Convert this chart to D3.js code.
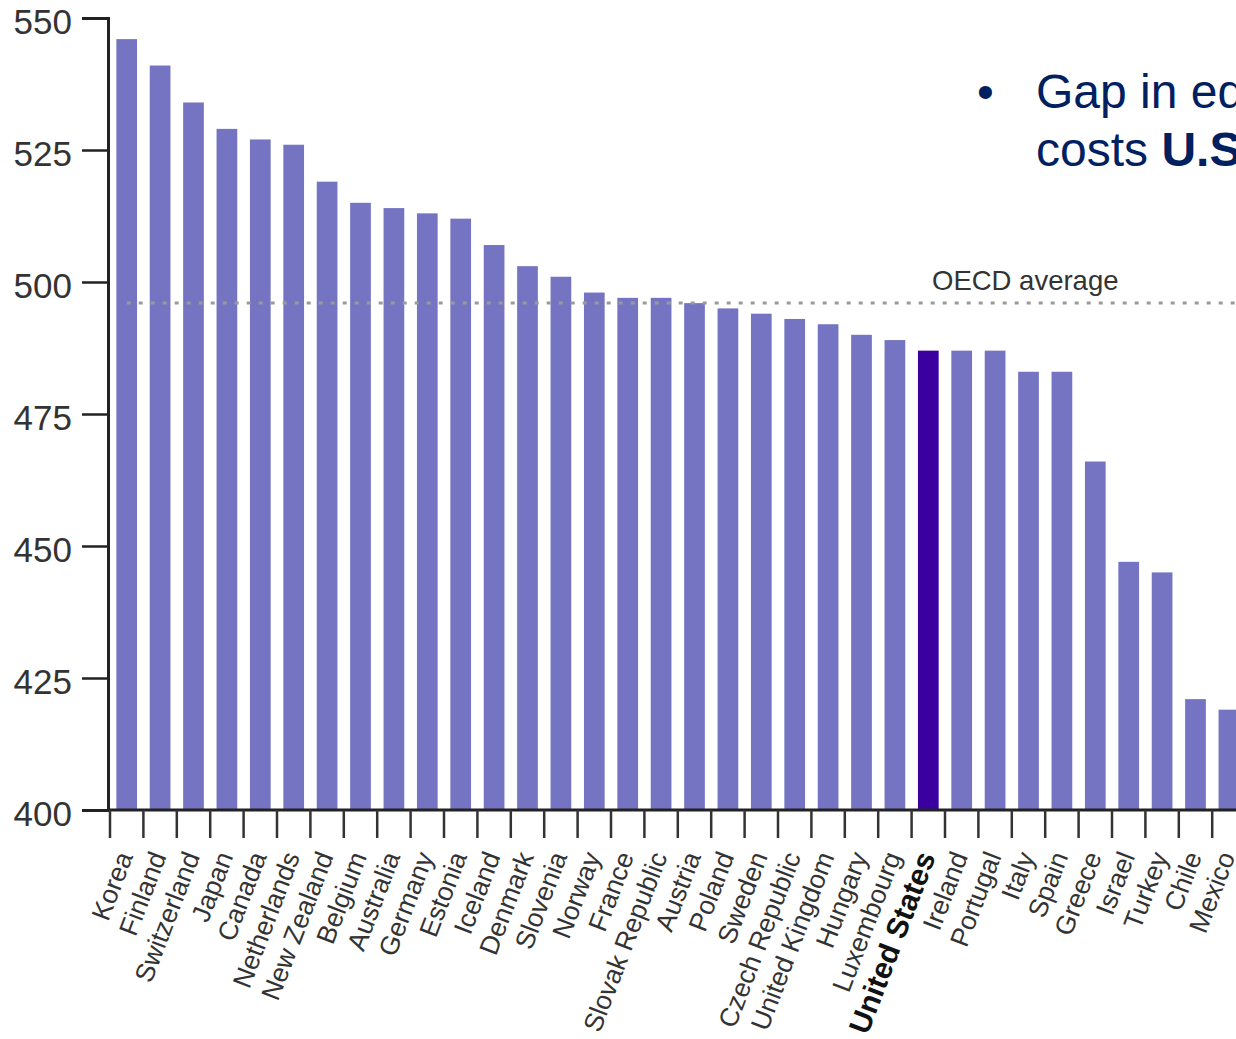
<!DOCTYPE html>
<html>
<head>
<meta charset="utf-8">
<script src="https://cdn.jsdelivr.net/npm/d3@7"></script>
<style>
  html, body { margin: 0; padding: 0; background: #fff; overflow: hidden; }
  svg { display: block; font-family: "Liberation Sans", Arial, sans-serif; }
</style>
</head>
<body>
<svg id="chart" width="1236" height="1039"></svg>
<script>
// PISA 2009 mean mathematics scores, OECD countries
const countries = ["Korea", "Finland", "Switzerland", "Japan", "Canada", "Netherlands",
  "New Zealand", "Belgium", "Australia", "Germany", "Estonia", "Iceland", "Denmark",
  "Slovenia", "Norway", "France", "Slovak Republic", "Austria", "Poland", "Sweden",
  "Czech Republic", "United Kingdom", "Hungary", "Luxembourg", "United States",
  "Ireland", "Portugal", "Italy", "Spain", "Greece", "Israel", "Turkey", "Chile", "Mexico"];
const scores = [546, 541, 534, 529, 527, 526, 519, 515, 514, 513, 512, 507, 503, 501,
  498, 497, 497, 496, 495, 494, 493, 492, 490, 489, 487, 487, 487, 483, 483, 466,
  447, 445, 421, 419];
const oecdAverage = 496;
const yTicks = [400, 425, 450, 475, 500, 525, 550];
const highlight = "United States";
const bulletLines = [
  [{ t: "Gap in education", b: false }],
  [{ t: "costs ", b: false }, { t: "U.S. economy", b: true }]
];

const svg = d3.select("#chart");
const left = 110, step = 33.4;
const x = d3.scaleBand()
  .domain(countries)
  .range([left, left + step * countries.length])
  .paddingInner(0.38)
  .paddingOuter(0.19);
const y = d3.scaleLinear().domain([400, 550]).range([810, 18]);
const gap = x.step() * 0.38 / 2;

// bars
svg.append("g").selectAll("rect")
  .data(countries)
  .join("rect")
  .attr("x", d => x(d))
  .attr("width", x.bandwidth())
  .attr("y", (d, i) => y(scores[i]))
  .attr("height", (d, i) => y(400) - y(scores[i]))
  .attr("fill", d => d === highlight ? "#3b00a0" : "#7474c2");

// OECD average reference line
svg.append("line")
  .attr("x1", x(countries[0]) + x.bandwidth() / 2)
  .attr("x2", 1300)
  .attr("y1", y(oecdAverage)).attr("y2", y(oecdAverage))
  .attr("stroke", "#9a9a9a").attr("stroke-width", 3)
  .attr("stroke-dasharray", "4,8");
svg.append("text")
  .attr("x", 932).attr("y", y(oecdAverage) - 13)
  .attr("font-size", 27.5).attr("fill", "#333")
  .text("OECD average");

// y axis
const yAxis = svg.append("g")
  .attr("transform", "translate(108,0)")
  .call(d3.axisLeft(y).tickValues(yTicks).tickSize(26).tickPadding(10).tickFormat(d3.format("d")));
yAxis.select(".domain").attr("stroke", "#222").attr("stroke-width", 3);
yAxis.selectAll(".tick line").attr("stroke", "#222").attr("stroke-width", 2.5);
yAxis.selectAll(".tick text")
  .attr("font-size", 35).attr("fill", "#333")
  .attr("font-family", "Liberation Sans, Arial, sans-serif")
  .attr("dy", "0.45em");

// x axis line with ticks at band boundaries
const baseY = y(400);
svg.append("line")
  .attr("x1", 107).attr("x2", 1300)
  .attr("y1", baseY).attr("y2", baseY)
  .attr("stroke", "#222").attr("stroke-width", 3);
svg.append("g").selectAll("line")
  .data(countries)
  .join("line")
  .attr("x1", d => x(d) - gap).attr("x2", d => x(d) - gap)
  .attr("y1", baseY).attr("y2", baseY + 28)
  .attr("stroke", "#333").attr("stroke-width", 2.5);

// rotated country labels
svg.append("g").selectAll("text")
  .data(countries)
  .join("text")
  .attr("transform", d => `translate(${x(d) + x.bandwidth() / 2 - 2},${baseY + 43}) rotate(-69)`)
  .attr("text-anchor", "end")
  .attr("dy", "0.35em")
  .attr("font-size", d => d === highlight ? 30 : 26.5)
  .attr("font-weight", d => d === highlight ? "bold" : "normal")
  .attr("fill", d => d === highlight ? "#111" : "#333")
  .text(d => d);

// slide bullet text
const bullet = svg.append("g").attr("fill", "#002060").attr("font-size", 48);
bullet.append("text").attr("x", 977).attr("y", 108).text("•");
bulletLines.forEach((line, i) => {
  const t = bullet.append("text").attr("x", 1036).attr("y", 108 + i * 58);
  line.forEach(seg => t.append("tspan").attr("font-weight", seg.b ? "bold" : "normal").text(seg.t));
});
</script>
</body>
</html>
